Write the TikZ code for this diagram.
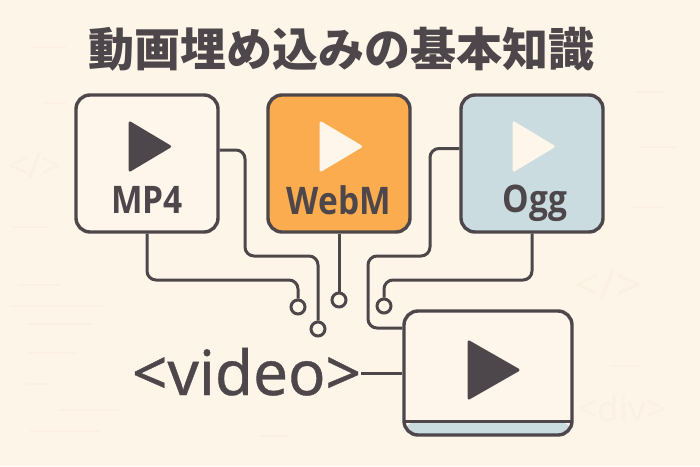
\documentclass[tikz,border=0pt]{standalone}
\usepackage{fontspec}
\usepackage{xcolor}
\setmainfont{Noto Sans}
\newfontfamily\jpfont{Noto Sans CJK JP}
\newfontfamily\fmtfont{Open Sans}[FakeStretch=0.88]
\newfontfamily\tagfont{Noto Sans}[FakeBold=0.6]
\definecolor{inkc}{HTML}{4D474B}
\definecolor{paperc}{HTML}{FEF5E9}
\definecolor{cardc}{HTML}{FEF6EB}
\definecolor{orangec}{HTML}{FBAC4E}
\definecolor{bluec}{HTML}{CBDCE0}
\definecolor{faintc}{HTML}{FBF0E2}
\begin{document}
\begin{tikzpicture}[x=1pt,y=-1pt]
        \tikzset{card style/.style = {draw=inkc,line width=3.4pt,rounded corners=14pt,minimum width=142pt,minimum height=137pt,inner sep=0pt}}
        \tikzset{fmt style/.style = {text=inkc,font=\fmtfont\bfseries\fontsize{38}{38}\selectfont,inner sep=0pt}}
        \tikzset{wire style/.style = {draw=inkc,line width=3pt,rounded corners=9pt}}
        \tikzset{pin style/.style = {circle,draw=inkc,line width=3pt,fill=paperc,minimum size=14pt,inner sep=0pt}}
        \tikzset{play style/.style = {line join=round,line width=3pt,draw=#1,fill=#1}}
        \tikzset{faint style/.style = {draw=faintc,line width=2.5pt}}
        \fill[paperc] (0,0) rectangle (700,466);
        \useasboundingbox (0,0) rectangle (700,466);
        \foreach \xa/\xb/\ya in {32/66/47,42/66/103,13/48/227,18/60/285,10/103/306,27/93/324,27/78/353,25/50/384,60/120/410,30/100/431,635/665/92,640/677/147,633/665/207,610/640/366,258/288/436}
            \draw[faint style] (\xa,\ya) -- (\xb,\ya);
        \node[text=faintc,font=\fontsize{35}{35}\selectfont] (codea) at (35,166) {</>};
        \node[text=faintc,font=\fontsize{44}{44}\selectfont] (codeb) at (608,285) {</>};
        \node[text=faintc,font=\fontsize{35}{35}\selectfont] (codec) at (622,408) {<div>};
        \node[text=inkc,font=\jpfont\bfseries\fontsize{46}{46}\selectfont,inner sep=0pt] (title) at (341,49) {動画埋め込みの基本知識};
        \node[card style,fill=cardc] (mp4) at (147,163.5) {};
        \node[card style,fill=orangec] (webm) at (339,163.5) {};
        \node[card style,fill=bluec] (ogg) at (532,163.5) {};
        \node[card style,fill=cardc,minimum width=168pt,minimum height=124pt,
            path picture={
                \fill[bluec] ([yshift=14pt]path picture bounding box.south west) rectangle (path picture bounding box.south east);
                \draw[inkc,line width=3pt] ([yshift=14pt]path picture bounding box.south west) -- ([yshift=14pt]path picture bounding box.south east);
            }] (vid) at (488,373) {};
        \fill[play style=inkc] (130,123) -- (169.5,146.5) -- (130,170) -- cycle;
        \fill[play style=cardc] (321,123) -- (360.5,146.5) -- (321,170) -- cycle;
        \fill[play style=cardc] (514,123) -- (553,146.5) -- (514,170) -- cycle;
        \fill[play style=inkc] (469,342) -- (518,370) -- (469,398) -- cycle;
        \node[fmt style] (mp4 label) at (147,200) {MP4};
        \node[fmt style] (webm label) at (339,200) {WebM};
        \node[fmt style] (ogg label) at (535,203) {Ogg};
        \node[text=inkc,font=\tagfont\fontsize{62}{62}\selectfont,inner sep=0pt,anchor=base] (video label) at (246.5,395) {<video>};
        \node[pin style] (pin a) at (298,307) {};
        \node[pin style] (pin b) at (318,329) {};
        \node[pin style] (pin c) at (339,300) {};
        \node[pin style] (pin d) at (384,306) {};
        \draw[wire style] (mp4.south) |- (298,280) -- (pin a);
        \draw[wire style] ([yshift=13.5pt]mp4.east) -| (245,256) -| (pin b);
        \draw[wire style] (webm.south) -- (pin c);
        \draw[wire style] ([yshift=15pt]ogg.west) -| (430,256) -| (368,328) -- ([yshift=45pt]vid.west);
        \draw[wire style] (ogg.south) |- (384,280) -- (pin d);
        \draw[inkc,line width=3pt] (video label.east |- vid.west) -- (vid.west);
    \end{tikzpicture}
\end{document}
